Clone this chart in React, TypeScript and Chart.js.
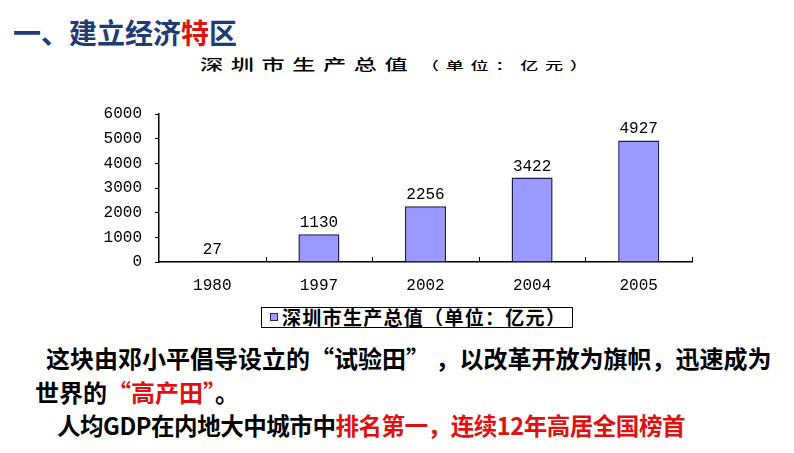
import React, { useEffect, useRef } from "react";
import { Chart, registerables } from "chart.js";

Chart.register(...registerables);

const categories = ["1980", "1997", "2002", "2004", "2005"];
const gdpValues = [27, 1130, 2256, 3422, 4927];
const yTicks = [0, 1000, 2000, 3000, 4000, 5000, 6000];
const seriesName = "深圳市生产总值（单位：亿元）";
const chartTitleMain = "深圳市生产总值";
const chartTitleUnit = "（单位：亿元）";

const CJK = '"Noto Sans CJK SC", "Noto Sans", sans-serif';
const NUM_FONT = '"Liberation Mono", "DejaVu Sans Mono", monospace';

const valueLabelPlugin = {
  id: "valueLabels",
  afterDatasetsDraw(chart: any) {
    const ctx = chart.ctx;
    const meta = chart.getDatasetMeta(0);
    ctx.save();
    ctx.font = `16px ${NUM_FONT}`;
    ctx.fillStyle = "#000";
    ctx.textAlign = "center";
    ctx.textBaseline = "alphabetic";
    meta.data.forEach((el: any, i: number) => {
      ctx.fillText(String(gdpValues[i]), el.x, el.y - 7);
    });
    ctx.restore();
  },
};

const innerTickPlugin = {
  id: "innerTicks",
  afterDraw(chart: any) {
    const x = chart.scales.x;
    const ctx = chart.ctx;
    const bottom = chart.chartArea.bottom;
    ctx.save();
    ctx.strokeStyle = "#000";
    ctx.lineWidth = 1;
    const n = categories.length;
    for (let i = 0; i < n; i++) {
      const px =
        i < n - 1
          ? (x.getPixelForValue(i) + x.getPixelForValue(i + 1)) / 2
          : chart.chartArea.right;
      const rx = Math.round(px) + 0.5;
      ctx.beginPath();
      ctx.moveTo(rx, bottom);
      ctx.lineTo(rx, bottom - 5);
      ctx.stroke();
    }
    ctx.restore();
  },
};

function BarChart() {
  const ref = useRef<HTMLCanvasElement | null>(null);
  useEffect(() => {
    if (!ref.current) return;
    const chart = new Chart(ref.current, {
      type: "bar",
      data: {
        labels: categories,
        datasets: [
          {
            label: seriesName,
            data: gdpValues,
            backgroundColor: "#9999FF",
            borderColor: "#1c1c4a",
            borderWidth: 1.5,
            barPercentage: 0.385,
            categoryPercentage: 1,
          },
        ],
      },
      options: {
        responsive: false,
        animation: false,
        layout: { padding: { top: 14, right: 8, left: 0, bottom: 0 } },
        plugins: {
          legend: { display: false },
          title: { display: false },
          tooltip: { enabled: false },
        },
        scales: {
          x: {
            afterFit: (s: any) => {
              s.height = 38;
            },
            grid: { display: true, drawOnChartArea: false, drawTicks: false },
            border: { color: "#000", width: 1.5 },
            ticks: {
              color: "#000",
              font: { family: NUM_FONT, size: 16 },
              padding: 14,
            },
          },
          y: {
            min: 0,
            max: 6000,
            afterFit: (s: any) => {
              s.width = 159;
              s.paddingTop = 4;
              s.paddingBottom = 4;
            },
            afterBuildTicks: (s: any) => {
              s.ticks = yTicks.map((v) => ({ value: v }));
            },
            grid: { drawOnChartArea: false, tickLength: 4, color: "#000" },
            border: { color: "#000", width: 1.5 },
            ticks: {
              color: "#000",
              font: { family: NUM_FONT, size: 16 },
              padding: 13,
              callback: (v: any) => String(v),
            },
          },
        },
      },
      plugins: [valueLabelPlugin, innerTickPlugin],
    });
    return () => chart.destroy();
  }, []);
  return <canvas ref={ref} width={700} height={200} style={{ display: "block" }} />;
}

export default function App() {
  const abs = (o: React.CSSProperties): React.CSSProperties => ({ position: "absolute", whiteSpace: "nowrap", ...o });
  const red = "#E01010";
  return (
    <div
      style={{
        position: "absolute",
        left: 0,
        top: 0,
        width: 794,
        height: 453,
        background: "#fff",
        overflow: "hidden",
        fontFamily: CJK,
      }}
    >
      <div
        style={abs({
          left: 13,
          top: 14,
          fontSize: 28,
          lineHeight: "36px",
          fontWeight: 700,
          color: "#1F3B73",
        })}
      >
        一、建立经济<span style={{ color: red }}>特</span>区
      </div>

      <div
        style={abs({
          left: 200,
          top: 52,
          height: 22,
          lineHeight: "22px",
          color: "#000",
          transformOrigin: "0 50%",
          transform: "scale(1.45, 0.95)",
          fontWeight: 500,
        })}
      >
        <span style={{ fontSize: 16, letterSpacing: "5.2px" }}>{chartTitleMain}</span>
        <span style={{ fontSize: 12.5, letterSpacing: "4.6px", marginLeft: 4 }}>{chartTitleUnit}</span>
      </div>

      <div style={{ position: "absolute", left: 0, top: 100 }}>
        <BarChart />
      </div>

      <div
        style={abs({
          left: 261,
          top: 307,
          width: 312,
          height: 21,
          boxSizing: "border-box",
          border: "1.5px solid #000",
        })}
      >
        <div
          style={abs({
            left: 8,
            top: 5,
            width: 8,
            height: 8,
            boxSizing: "border-box",
            background: "#9999FF",
            border: "1px solid #2a2a5a",
          })}
        />
        <div
          style={abs({
            left: 20,
            top: -1,
            fontSize: 19,
            lineHeight: "20px",
            fontWeight: 700,
            color: "#000",
            letterSpacing: "1.3px",
          })}
        >
          {seriesName}
        </div>
      </div>

      <div style={abs({ left: 46, top: 343, fontSize: 24, lineHeight: "30px", fontWeight: 700, color: "#000" })}>
        这块由邓小平倡导设立的“试验田” ，以改革开放为旗帜，迅速成为
      </div>
      <div style={abs({ left: 35, top: 377, fontSize: 24, lineHeight: "30px", fontWeight: 700, color: "#000" })}>
        世界的<span style={{ color: red }}>“高产田”</span>。
      </div>
      <div
        style={abs({
          left: 57,
          top: 410,
          fontSize: 23.5,
          lineHeight: "30px",
          fontWeight: 700,
          color: "#000",
          letterSpacing: "-0.45px",
        })}
      >
        人均GDP在内地大中城市中<span style={{ color: red }}>排名第一，连续12年高居全国榜首</span>
      </div>
    </div>
  );
}
